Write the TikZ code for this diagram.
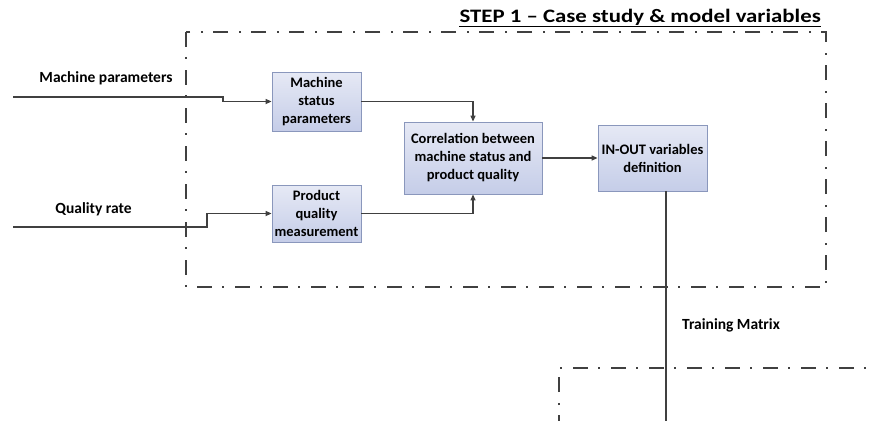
\documentclass[tikz,border=0pt]{standalone}
\usepackage{fontspec}
\setmainfont{Carlito}
\newfontfamily\titlefont[FakeStretch=1.2]{Carlito}
\usetikzlibrary{arrows.meta}
\definecolor{linegray}{HTML}{404040}
\definecolor{boxtop}{HTML}{E6E9F5}
\definecolor{boxbot}{HTML}{C5CDE8}
\definecolor{boxedge}{HTML}{8A97BC}
\tikzset{
  procbox/.style={rectangle, draw=boxedge, line width=0.8pt, top color=boxtop, bottom color=boxbot,
    align=center, font=\fontsize{14.5}{18}\selectfont\bfseries, inner sep=1pt},
  flow/.style={draw=linegray, line width=1.2pt, -{Triangle[length=6pt,width=5pt]}},
  inflow/.style={draw=linegray, line width=1.8pt, -{Triangle[length=6pt,width=5pt]}},
  plain/.style={draw=linegray, line width=1.5pt},
  frame/.style={draw=linegray, line width=1.8pt, dash pattern=on 15pt off 10pt on 2pt off 11pt},
  lbl/.style={font=\fontsize{15.5}{18}\selectfont\bfseries, text=black, inner sep=0pt},
}
\begin{document}
\begin{tikzpicture}[x=1pt,y=-1pt]
\useasboundingbox (0,0) rectangle (869,420);

% step frames
\draw[frame] (186,32) rectangle (826,287);
\draw[frame] (559,430) -- (559,368) -- (880,368);

% title
\node[anchor=base east, inner sep=0pt, font=\fontsize{19}{22}\titlefont\bfseries] (title) at (821,23)
  {STEP 1 – Case study \& model variables};
\draw[line width=1.4pt] ([yshift=-3.5pt]title.base west) -- ([yshift=-3.5pt]title.base east);

% process boxes
\node[procbox, minimum width=89pt, minimum height=59pt] (ms) at (316.5,101.5) {Machine\\status\\parameters};
\node[procbox, minimum width=89pt, minimum height=57pt] (pq) at (316.5,213.5) {Product\\quality\\measurement};
\node[procbox, minimum width=138pt, minimum height=72pt] (corr) at (473,158) {Correlation between\\machine status and\\product quality};
\node[procbox, minimum width=109pt, minimum height=66pt] (io) at (652.5,158) {IN-OUT variables\\definition};

% input labels
\node[lbl] (mplbl) at (106,78) {Machine parameters};
\node[lbl] (qrlbl) at (93.5,209) {Quality rate};
\node[lbl] (tmlbl) at (731,325) {Training Matrix};

% input lines
\coordinate (mpin) at (13,97);
\coordinate (qrin) at (13,227);
\coordinate (tmout) at (666,430);
\draw[inflow] (mpin) -- (223,97) -- (223,101.5) -- (ms.west);
\draw[inflow] (qrin) -- (207,227) -- (207,213.5) -- (pq.west);

% connections
\draw[flow] (ms.east) -| (corr.north);
\draw[flow] (pq.east) -| (corr.south);
\draw[flow] (corr.east) -- (io.west);
\draw[plain] (io.south -| tmout) -- (tmout);
\end{tikzpicture}
\end{document}
